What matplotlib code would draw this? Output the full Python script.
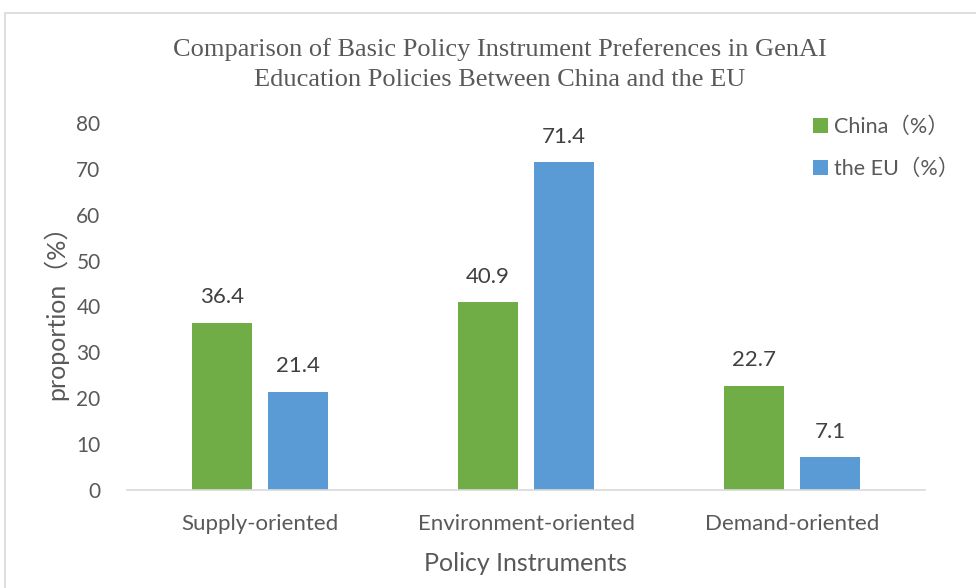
import numpy as np
import matplotlib
matplotlib.use("Agg")
import matplotlib.pyplot as plt
from matplotlib.patches import Rectangle

categories = ["Supply-oriented", "Environment-oriented", "Demand-oriented"]
china = [36.4, 40.9, 22.7]
eu = [21.4, 71.4, 7.1]
series_names = ["China（%）", "the EU（%）"]

green = "#70AD47"
blue = "#5B9BD5"
grey = "#595959"
sans = ["Lato", "Noto Sans CJK SC", "DejaVu Sans"]

plt.rcParams["font.family"] = sans

fig = plt.figure(figsize=(9.76, 5.88), dpi=100)
ax = fig.add_axes([127 / 976, 1 - 490 / 588, (925 - 127) / 976, (490 - 123) / 588])

# outer chart frame
fig.patches.append(Rectangle((5 / 976, -0.1), 1.2, 1 - 13 / 588 + 0.1, transform=fig.transFigure,
                             fill=False, edgecolor="#D9D9D9", linewidth=1.2))

x = np.arange(len(categories))
w = 0.226
off = 0.143
b1 = ax.bar(x - off, china, w, color=green, label=series_names[0])
b2 = ax.bar(x + off, eu, w, color=blue, label=series_names[1])

for bars, vals in ((b1, china), (b2, eu)):
    for r, v in zip(bars, vals):
        ax.text(r.get_x() + r.get_width() / 2, v + 5.6, f"{v:.1f}", ha="center", va="center",
                fontsize=16, color="#404040")

ax.set_xlim(-0.5, 2.5)
ax.set_ylim(0, 80)
ax.set_yticks(range(0, 81, 10))
ax.set_xticks(x)
ax.set_xticklabels(categories, fontsize=16)
for s in ("top", "right", "left"):
    ax.spines[s].set_visible(False)
ax.spines["bottom"].set_color("#D9D9D9")
ax.spines["bottom"].set_linewidth(1.2)
ax.tick_params(axis="both", length=0, colors=grey)
ax.tick_params(axis="y", pad=19, labelsize=15)
ax.tick_params(axis="x", pad=17)

ax.set_xlabel("Policy Instruments", fontsize=18, color=grey, labelpad=13)
ax.set_ylabel("proportion（%）", fontsize=18, color=grey, labelpad=6)

fig.text(500 / 976, 1 - 50 / 588, "Comparison of Basic Policy Instrument Preferences in GenAI",
         ha="center", va="center", fontsize=19, color=grey, family="Liberation Serif")
fig.text(500 / 976, 1 - 80 / 588, "Education Policies Between China and the EU",
         ha="center", va="center", fontsize=19, color=grey, family="Liberation Serif")

leg = ax.legend(loc="upper left", bbox_to_anchor=(0.835, 1.07), frameon=False, fontsize=15.5,
                handlelength=0.7, handleheight=0.7, handletextpad=0.3, labelspacing=1.0,
                labelcolor=grey)

fig.savefig("out.png", dpi=100)
